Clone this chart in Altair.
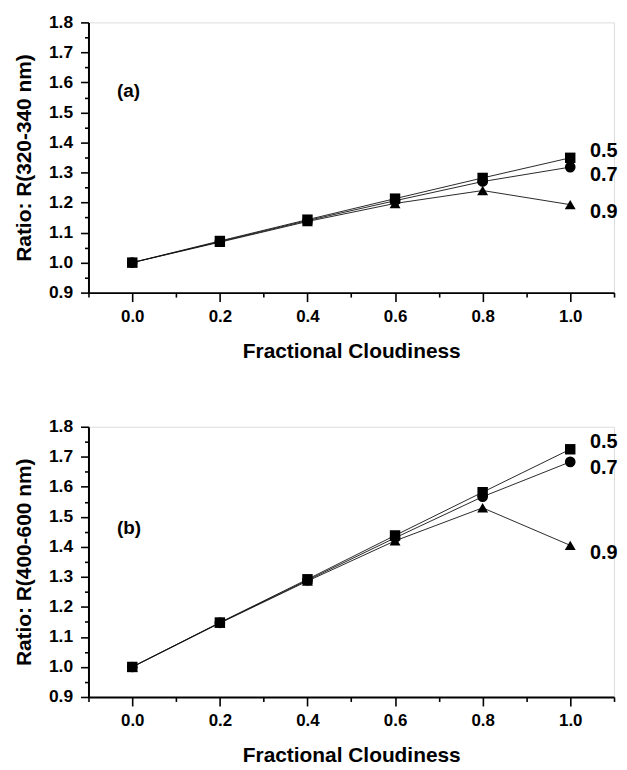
import altair as alt
import pandas as pd

# ---------------- data ----------------
cloudiness = [0.0, 0.2, 0.4, 0.6, 0.8, 1.0]
series_names = ["0.5", "0.7", "0.9"]
series_shapes = ["square", "circle", "triangle-up"]

# panel (a): R(320-340 nm)
a_05 = [1.000, 1.072, 1.143, 1.213, 1.282, 1.349]
a_07 = [1.000, 1.070, 1.140, 1.206, 1.270, 1.318]
a_09 = [1.000, 1.068, 1.137, 1.197, 1.240, 1.193]

# panel (b): R(400-600 nm)
b_05 = [1.000, 1.148, 1.292, 1.438, 1.582, 1.725]
b_07 = [1.000, 1.147, 1.289, 1.430, 1.567, 1.683]
b_09 = [1.000, 1.146, 1.286, 1.420, 1.530, 1.405]

a_label_y = [1.372, 1.292, 1.168]
b_label_y = [1.750, 1.662, 1.380]
label_x = [1.045, 1.045, 1.045]

panel_tags = ["(a)", "(b)"]
tag_x = [-0.035, -0.035]
tag_y = [1.573, 1.462]

y_titles = ["Ratio: R(320-340 nm)", "Ratio: R(400-600 nm)"]
x_title = "Fractional Cloudiness"

x_tick_values = [-0.1, 0.0, 0.1, 0.2, 0.3, 0.4, 0.5, 0.6, 0.7, 0.8, 0.9, 1.0, 1.1]
y_tick_values = [0.9, 0.95, 1.0, 1.05, 1.1, 1.15, 1.2, 1.25, 1.3, 1.35, 1.4,
                 1.45, 1.5, 1.55, 1.6, 1.65, 1.7, 1.75, 1.8]

FONT = "Liberation Sans"


def make_panel(series_vals, ytitle, tag, tx, ty, lab_y):
    rows = []
    for name, vals in zip(series_names, series_vals):
        for xv, yv in zip(cloudiness, vals):
            rows.append({"x": xv, "y": yv, "s": name})
    df = pd.DataFrame(rows)

    lab_df = pd.DataFrame({"x": label_x, "y": lab_y, "t": series_names})
    tag_df = pd.DataFrame({"x": [tx], "y": [ty], "t": [tag]})

    x_axis = alt.Axis(
        values=x_tick_values,
        labelExpr="round(datum.value*10) % 2 == 0 ? format(datum.value, '.1f') : ''",
        tickSize={"condition": {"test": "round(datum.value*10) % 2 == 0", "value": 9}, "value": 4.5},
        grid=False, labelFlush=False, labelOverlap=False,
        labelFont=FONT, labelFontSize=17, labelFontWeight="bold", labelColor="black",
        labelPadding=7,
        titleFont=FONT, titleFontSize=21, titleFontWeight="bold", titleColor="black",
        titlePadding=16,
        domainColor="black", domainWidth=2, tickColor="black", tickWidth=1.6,
    )
    y_axis = alt.Axis(
        values=y_tick_values,
        labelExpr="round(datum.value*100) % 10 == 0 ? format(datum.value, '.1f') : ''",
        tickSize={"condition": {"test": "round(datum.value*100) % 10 == 0", "value": 8}, "value": 4},
        grid=False, labelFlush=False, labelOverlap=False,
        labelFont=FONT, labelFontSize=17.5, labelFontWeight="bold", labelColor="black",
        labelPadding=8,
        titleFont=FONT, titleFontSize=21, titleFontWeight="bold", titleColor="black",
        titlePadding=14,
        domainColor="black", domainWidth=2, tickColor="black", tickWidth=1.6,
    )
    xenc = alt.X("x:Q", scale=alt.Scale(domain=[-0.1, 1.1], nice=False, zero=False),
                 axis=x_axis, title=x_title)
    yenc = alt.Y("y:Q", scale=alt.Scale(domain=[0.9, 1.8], nice=False, zero=False),
                 axis=y_axis, title=ytitle)

    lines = alt.Chart(df).mark_line(color="#111111", strokeWidth=0.9).encode(
        x=xenc, y=yenc, detail="s:N")
    points = alt.Chart(df).mark_point(filled=True, opacity=1, color="black").encode(
        x=xenc, y=yenc,
        shape=alt.Shape("s:N", scale=alt.Scale(domain=series_names, range=series_shapes),
                        legend=None),
        size=alt.Size("s:O", scale=alt.Scale(domain=series_names, range=[110, 120, 215]),
                      legend=None))
    labels = alt.Chart(lab_df).mark_text(
        align="left", baseline="middle", font=FONT, fontSize=20, fontWeight="bold",
        color="black").encode(x=xenc, y=yenc, text="t:N")
    tags = alt.Chart(tag_df).mark_text(
        align="left", baseline="middle", font=FONT, fontSize=19, fontWeight="bold",
        color="black").encode(x=xenc, y=yenc, text="t:N")

    return alt.layer(lines, points, labels, tags).properties(width=529, height=272)


pa = make_panel([a_05, a_07, a_09], y_titles[0], panel_tags[0], tag_x[0], tag_y[0], a_label_y)
pb = make_panel([b_05, b_07, b_09], y_titles[1], panel_tags[1], tag_x[1], tag_y[1], b_label_y)

chart = alt.vconcat(pa, pb, spacing=55).properties(
    padding={"left": 5, "top": 2, "right": 0, "bottom": 0}
).configure_view(strokeWidth=0).configure(background="white")

chart.save("out.html", embed_options={"renderer": "svg", "actions": False})
